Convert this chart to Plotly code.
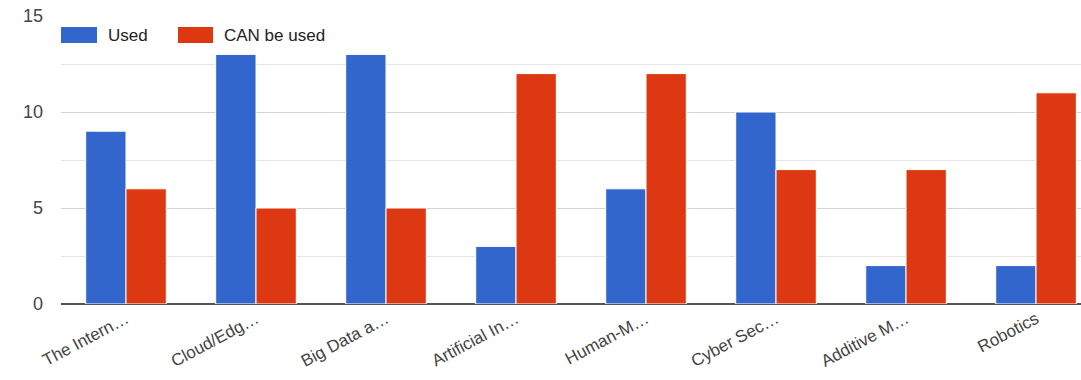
import plotly.graph_objects as go

categories = ["The Intern…", "Cloud/Edg…", "Big Data a…", "Artificial In…",
              "Human-M…", "Cyber Sec…", "Additive M…", "Robotics"]
used = [9, 13, 13, 3, 6, 10, 2, 2]
can_be_used = [6, 5, 5, 12, 12, 7, 7, 11]
series_names = ["Used", "CAN be used"]
series_colors = ["#3366cc", "#dc3912"]
y_ticks = [0, 5, 10, 15]

fig = go.Figure()
for name, vals, col in zip(series_names, [used, can_be_used], series_colors):
    fig.add_trace(go.Bar(x=categories, y=vals, name=name, showlegend=False,
                         marker=dict(color=col, line=dict(color="white", width=1))))

W, H = 1081, 380
ml, mr, mt, mb = 61, 0, 16, 76
pw, ph = W - ml - mr, H - mt - mb

def px_to_paper(x, y):
    return (x - ml) / pw, (H - mb - y) / ph

# custom legend (larger swatches like the original)
legend_items = [(61, 97, 106), (178, 213, 222)]
shapes, annotations = [], []
for (x0, x1, tx), name, col in zip(legend_items, series_names, series_colors):
    a0, b0 = px_to_paper(x0, 43)
    a1, b1 = px_to_paper(x1, 27)
    shapes.append(dict(type="rect", xref="paper", yref="paper", x0=a0, x1=a1, y0=b0, y1=b1,
                       fillcolor=col, line=dict(width=0), layer="above"))
    tx_p, ty_p = px_to_paper(tx, 35)
    annotations.append(dict(text=name, xref="paper", yref="paper", x=tx_p, y=ty_p,
                            xanchor="left", yanchor="middle", showarrow=False,
                            font=dict(size=17, color="#222222")))

fig.update_layout(
    width=W, height=H,
    margin=dict(l=ml, r=mr, t=mt, b=mb, autoexpand=False),
    paper_bgcolor="white", plot_bgcolor="white",
    barmode="group", bargap=0.38, bargroupgap=0,
    font=dict(family="Arial, Liberation Sans, sans-serif", size=16, color="#444444"),
    showlegend=False,
    shapes=shapes, annotations=annotations,
    xaxis=dict(range=[-0.5, 7.346], tickangle=-28, showgrid=False, automargin=False,
               ticks="", showline=False, ticklabelstandoff=1,
               tickfont=dict(size=17, color="#444444")),
    yaxis=dict(range=[0, 15], tickvals=y_ticks, showgrid=True, gridcolor="#d4d4d4",
               gridwidth=1, zeroline=True, zerolinecolor="#555555", zerolinewidth=1.5,
               ticks="", ticklabelstandoff=17, automargin=False,
               tickfont=dict(size=18, color="#444444"),
               minor=dict(dtick=2.5, showgrid=True, gridcolor="#e6e6e6", gridwidth=1)),
)

fig.write_html("out.html")
